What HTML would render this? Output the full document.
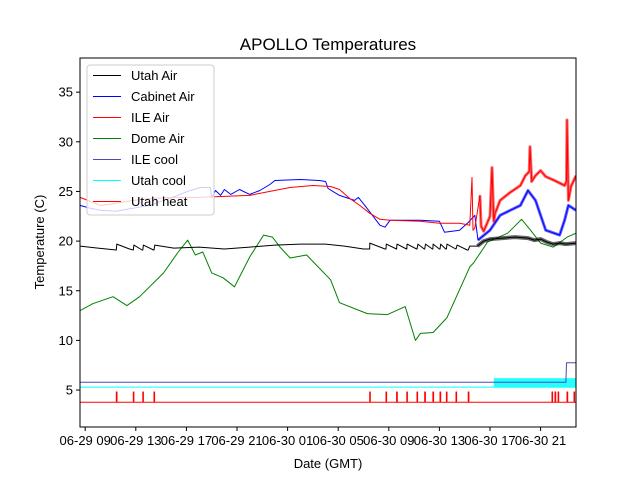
<!DOCTYPE html>
<html><head><meta charset="utf-8"><style>
body{margin:0;background:#fff;}
svg{display:block;font-family:"Liberation Sans","DejaVu Sans",sans-serif;}
</style></head><body>
<svg id="chart" width="640" height="480" viewBox="0 0 640 480">
<defs><clipPath id="plotclip"><rect x="80" y="58" width="496" height="369"/></clipPath></defs>
<rect x="0" y="0" width="640" height="480" fill="#fff"/>
<text x="328" y="50" font-size="17" text-anchor="middle">APOLLO Temperatures</text>
<g id="series" clip-path="url(#plotclip)"></g>
<rect x="80" y="58" width="496" height="369" fill="none" stroke="#000" stroke-width="1"/>
<g id="xaxis"></g>
<g id="yaxis"></g>
<text x="328" y="468" font-size="13" text-anchor="middle">Date (GMT)</text>
<text x="44" y="242" font-size="13" text-anchor="middle" transform="rotate(-90 44 242)">Temperature (C)</text>
<g id="legend"></g>
</svg>
<script>
// hours since 06-29 00:00 GMT
const xTickHours = [9,13,17,21,25,29,33,37,41,45];
const xTickLabels = ["06-29 09","06-29 13","06-29 17","06-29 21","06-30 01","06-30 05","06-30 09","06-30 13","06-30 17","06-30 21"];
const yTicks = [5,10,15,20,25,30,35];

const utahAirH = [8.6,10,11.46,11.5,12.5,12.8,12.85,13.5,13.55,13.6,14.4,14.44,14.5,16,18,20,22,24,26,28,29.5,31,31.49,31.5,32.7,32.78,32.8,33.6,33.62,33.65,34.4,34.42,34.45,35.2,35.23,35.3,35.8,35.84,35.9,36.45,36.49,36.5,37.0,37.05,37.1,37.5,37.55,37.6,38.3,38.31,38.4,39.2,39.28,39.4,40,40.5,41,42,43,44,44.5,45,45.5,46,46.5,47,47.8];
const utahAirV = [19.5,19.3,19.1,19.7,19.2,19.1,19.6,19.1,19.1,19.6,19.1,19.1,19.6,19.3,19.4,19.2,19.4,19.6,19.7,19.7,19.5,19.2,19.2,19.8,19.2,19.2,19.7,19.2,19.2,19.7,19.2,19.2,19.7,19.2,19.2,19.7,19.2,19.2,19.7,19.2,19.2,19.7,19.2,19.2,19.7,19.2,19.2,19.7,19.2,19.2,19.6,19.1,19.1,19.5,19.5,20.0,20.2,20.3,20.4,20.3,20.1,20.2,19.9,19.7,19.8,19.7,19.8];

const cabinetH = [8.6,9.4,10.2,11.4,12.3,14.1,16.1,17.1,18.1,18.9,19.0,19.3,19.7,20.0,20.5,21.2,22.0,22.8,23.6,24.0,26.0,27.5,28.0,28.2,29.1,30.3,30.6,31.1,31.7,32.3,32.7,33.1,35.5,37.0,37.4,38.6,39.3,39.8,40.05,41.0,41.8,42.6,43.4,44.0,44.6,45.0,45.4,46.5,46.9,47.2,47.8];
const cabinetV = [23.6,23.3,23.1,23.0,23.2,23.6,24.5,25.0,25.4,25.4,24.4,25.1,24.6,25.2,24.7,25.2,24.7,25.1,25.7,26.1,26.2,26.1,26.0,25.3,24.6,24.1,24.4,23.6,22.6,21.6,21.4,22.1,22.1,22.0,20.9,21.1,21.9,22.6,20.1,21.1,22.6,23.1,23.6,25.1,24.1,22.6,21.1,20.6,22.1,23.6,23.1];

const ileAirH = [8.6,9.4,10.2,11.4,12.3,14.1,16.1,18.0,20.0,22.0,23.6,25.2,27.0,28.4,29.1,29.9,30.7,31.5,32.3,33.1,35.5,37.0,38.6,39.4,39.58,39.66,39.8,40.2,40.3,40.5,41.0,41.16,41.3,41.4,41.8,42.6,43.4,43.8,44.1,44.16,44.3,44.6,45.0,45.4,46.1,46.9,47.05,47.09,47.2,47.4,47.8];
const ileAirV = [24.4,24.0,23.6,23.8,24.0,24.3,24.4,24.4,24.5,24.6,25.0,25.4,25.6,25.5,25.2,24.3,23.6,22.8,22.2,22.1,22.0,21.8,21.8,21.6,26.4,21.1,21.3,24.6,21.5,21.0,22.5,27.4,22.0,22.8,24.1,24.9,25.6,26.6,27.0,29.5,26.0,26.6,27.1,26.5,26.1,25.6,26.0,32.2,24.1,25.5,26.6];

const domeH = [8.6,9.6,11.2,12.3,13.3,15.2,16.3,17.1,17.7,18.3,19.0,19.9,20.8,22.0,23.1,23.8,24.4,25.2,26.5,28.4,29.1,31.3,32.9,34.3,35.1,35.5,36.5,37.6,39.4,39.7,40.8,42.4,43.5,44.2,45.0,46.0,47.1,47.8];
const domeV = [13.0,13.7,14.4,13.5,14.4,16.8,18.8,20.1,18.6,18.9,16.8,16.3,15.4,18.4,20.6,20.4,19.4,18.3,18.6,16.1,13.8,12.7,12.6,13.4,10.0,10.7,10.8,12.3,17.4,17.8,19.9,20.8,22.2,21.1,19.8,19.4,20.4,20.8];

const ileCoolH = [8.6,47.0,47.05,47.8];
const ileCoolV = [5.78,5.78,7.75,7.75];

const utahCoolBase = 5.3;
const utahCoolOnTop = 6.2;
const utahCoolStartH = 41.3;
const utahCoolEndH = 47.8;

const utahHeatBase = 3.77;
const utahHeatOnV = 4.8;
const utahHeatOnH = [11.46,12.8,13.55,14.44,31.49,32.78,33.62,34.42,35.23,35.84,36.49,37.05,37.55,38.31,39.28,45.9,46.14,46.38,47.09,47.64];

const noiseStartH = 40.0;

const legendNames = ["Utah Air","Cabinet Air","ILE Air","Dome Air","ILE cool","Utah cool","Utah heat"];
const legendColors = ["#000","#00f","#f00","#008000","#4b4bb0","#00ffff","#f00"];

const NS = "http://www.w3.org/2000/svg";
function xS(h){return 85.2 + (h-9)*12.65;}
function yS(v){return 439.7 - v*9.93;}
function mk(tag, attrs, parent){const e=document.createElementNS(NS,tag);for(const k in attrs)e.setAttribute(k,attrs[k]);parent.appendChild(e);return e;}

const xg=document.getElementById('xaxis');
xTickHours.forEach((h,i)=>{
  const t=mk('line',{x1:xS(h),x2:xS(h),y1:427,y2:431,stroke:'#000'},xg);
  
  
  const l=mk('text',{x:xS(h),y:445,'font-size':13,'text-anchor':'middle'},xg);
  l.textContent=xTickLabels[i];
  
  
});
const yg=document.getElementById('yaxis');
yTicks.forEach(v=>{
  const t=mk('line',{x1:76,x2:80,y1:yS(v),y2:yS(v),stroke:'#000'},yg);
  
  
  const l=mk('text',{x:73,y:yS(v)+4.5,'font-size':13,'text-anchor':'end'},yg);
  l.textContent=v;
  
  
});

const sg=document.getElementById('series');
function line(H,V,color,name,w,op){
  const p=mk('polyline',{points:H.map((h,i)=>xS(h).toFixed(1)+','+yS(V[i]).toFixed(1)).join(' '),fill:'none',stroke:color,'stroke-width':w||1,'stroke-opacity':op||1,'stroke-linejoin':'round'},sg);
  
  
}
function noisy(H,V,color,name,w){
  const h2=[],v2=[];
  H.forEach((h,i)=>{if(h>=noiseStartH){h2.push(h);v2.push(V[i]);}});
  line(h2,v2,color,name,w,0.6);
}
// Utah cool band
const cb=mk('rect',{x:xS(utahCoolStartH),y:yS(utahCoolOnTop),width:xS(utahCoolEndH)-xS(utahCoolStartH),height:yS(utahCoolBase)-yS(utahCoolOnTop),fill:'#00ffff',opacity:0.85},sg);


line([8.6,utahCoolEndH],[utahCoolBase,utahCoolBase],'#00ffff','utah-cool-line');
line(ileCoolH,ileCoolV,'#4b4bb0','ile-cool-line');
// Utah heat
const hp=[];
hp.push([8.6,utahHeatBase]);
utahHeatOnH.forEach(h=>{hp.push([h,utahHeatBase],[h,utahHeatOnV],[h+0.05,utahHeatOnV],[h+0.05,utahHeatBase]);});
hp.push([47.8,utahHeatBase]);
line(hp.map(p=>p[0]),hp.map(p=>p[1]),'#f00','utah-heat-line');
line(domeH,domeV,'#008000','dome-air-line');
line(utahAirH,utahAirV,'#000','utah-air-line');
noisy(utahAirH,utahAirV,'#000','utah-air-noise',4);
line(cabinetH,cabinetV,'#00f','cabinet-air-line');
noisy(cabinetH,cabinetV,'#00f','cabinet-air-noise',3);
line(ileAirH,ileAirV,'#f00','ile-air-line');
noisy(ileAirH,ileAirV,'#f00','ile-air-noise',3);

const lg=document.getElementById('legend');
const box=mk('rect',{x:87,y:65,width:127,height:150,rx:3,fill:'#fff','fill-opacity':0.8,stroke:'#ccc'},lg);


legendNames.forEach((n,i)=>{
  const y=75.5+i*21;
  const g=mk('g',{},lg);
  
  
  mk('line',{x1:93,x2:121,y1:y,y2:y,stroke:legendColors[i],'stroke-width':1},g);
  const t=mk('text',{x:131,y:y+4.5,'font-size':13},g);
  t.textContent=n;
});
</script>
</body></html>
